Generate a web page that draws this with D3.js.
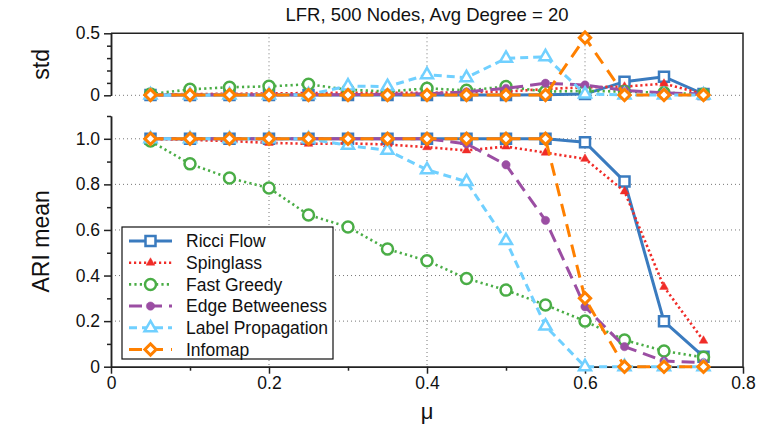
<!DOCTYPE html>
<html>
<head>
<meta charset="utf-8">
<script src="https://cdn.jsdelivr.net/npm/d3@7"></script>
<style>
  body { margin: 0; background: #fff; }
  text { font-family: "Liberation Sans", Arial, Helvetica, sans-serif; fill: #111; }
</style>
</head>
<body>
<div id="chart"></div>
<script>
const width = 757;
const height = 426;

// mixing parameter values
const mu = [0.05, 0.1, 0.15, 0.2, 0.25, 0.3, 0.35, 0.4, 0.45, 0.5, 0.55, 0.6, 0.65, 0.7, 0.75];

const methods = ["Ricci Flow", "Spinglass", "Fast Greedy", "Edge Betweeness", "Label Propagation", "Infomap"];

// ARI mean
const meanRicci = [1, 1, 1, 1, 1, 1, 1, 1, 1, 1, 1, 0.985, 0.813, 0.199, 0.044];
const meanSpinglass = [1, 0.995, 0.99, 0.982, 0.978, 0.98, 0.975, 0.963, 0.949, 0.966, 0.939, 0.912, 0.769, 0.35, 0.114];
const meanFastGreedy = [0.99, 0.89, 0.828, 0.784, 0.666, 0.613, 0.516, 0.465, 0.387, 0.336, 0.271, 0.2, 0.117, 0.069, 0.041];
const meanEdgeBtw = [1, 1, 1, 1, 1, 1, 1, 1, 0.978, 0.886, 0.642, 0.263, 0.088, 0.025, 0.018];
const meanLabelProp = [1, 1, 1, 1, 1, 0.971, 0.949, 0.864, 0.812, 0.553, 0.178, 0, 0, 0, 0];
const meanInfomap = [1, 1, 1, 1, 1, 1, 1, 1, 1, 1, 1, 0.3, 0, 0, 0];

// standard deviation
const stdRicci = [0.003, 0.003, 0.003, 0.003, 0.003, 0.003, 0.003, 0.003, 0.003, 0.003, 0.005, 0.01, 0.11, 0.15, 0.01];
const stdSpinglass = [0.005, 0.01, 0.012, 0.015, 0.018, 0.02, 0.02, 0.02, 0.025, 0.03, 0.05, 0.065, 0.07, 0.094, 0.01];
const stdFastGreedy = [0.01, 0.048, 0.065, 0.072, 0.089, 0.045, 0.03, 0.056, 0.04, 0.07, 0.03, 0.035, 0.03, 0.02, 0.01];
const stdEdgeBtw = [0.003, 0.003, 0.005, 0.005, 0.005, 0.005, 0.008, 0.012, 0.028, 0.056, 0.097, 0.083, 0.04, 0.02, 0.01];
const stdLabelProp = [0.003, 0.003, 0.003, 0.003, 0.005, 0.075, 0.07, 0.166, 0.142, 0.298, 0.311, 0.01, 0.003, 0.003, 0.003];
const stdInfomap = [0.003, 0.003, 0.003, 0.003, 0.003, 0.003, 0.003, 0.003, 0.003, 0.003, 0.003, 0.465, 0.003, 0.003, 0.003];

const xTicks = [0, 0.2, 0.4, 0.6, 0.8];
const meanTicks = [0, 0.2, 0.4, 0.6, 0.8, 1.0];
const stdTicks = [0, 0.5];

const meanData = [meanRicci, meanSpinglass, meanFastGreedy, meanEdgeBtw, meanLabelProp, meanInfomap];
const stdData = [stdRicci, stdSpinglass, stdFastGreedy, stdEdgeBtw, stdLabelProp, stdInfomap];

const styles = [
  { color: "#3a7bbf", width: 3, dash: null, symbol: d3.symbolSquare, size: 100, fill: "#fff", sw: 2.5, rot: 0 },
  { color: "#f02c28", width: 2.6, dash: "2.2,2.8", symbol: d3.symbolTriangle, size: 32, fill: "#f02c28", sw: 0.5, rot: 0 },
  { color: "#4aad46", width: 2.6, dash: "2.2,3.2", symbol: d3.symbolCircle, size: 95, fill: "#fff", sw: 2.5, rot: 0 },
  { color: "#9b4ea3", width: 3, dash: "13,7", symbol: d3.symbolCircle, size: 55, fill: "#9b4ea3", sw: 0.5, rot: 0 },
  { color: "#70d0ff", width: 3, dash: "8,5", symbol: d3.symbolTriangle, size: 62, fill: "#fff", sw: 2.5, rot: 0 },
  { color: "#ff8000", width: 3, dash: "13,8", symbol: d3.symbolSquare, size: 64, fill: "#fff", sw: 3, rot: 45 }
];

const svg = d3.select("#chart").append("svg")
  .attr("width", width)
  .attr("height", height);

const left = 111, right = 743;
const stdTop = 33.3, stdBottom = 95.3;
const meanTop = 116, meanBottom = 366.7;

const x = d3.scaleLinear().domain([0, 0.8]).range([left, right]);
const yStd = d3.scaleLinear().domain([0, 0.5]).range([stdBottom, stdTop]);
const yMean = d3.scaleLinear().domain([0, 1.1]).range([meanBottom, meanTop]);

const fmt = d => d === 0 ? "0" : d3.format(".1f")(d);

// grid lines
const grid = svg.append("g").attr("stroke", "#777").attr("stroke-width", 1).attr("stroke-dasharray", "1,3");
grid.selectAll(".vs").data([0.2, 0.4, 0.6]).enter().append("line")
  .attr("x1", d => x(d)).attr("x2", d => x(d)).attr("y1", stdTop).attr("y2", stdBottom);
grid.append("line").attr("x1", left).attr("x2", right).attr("y1", yStd(0)).attr("y2", yStd(0));
grid.selectAll(".vm").data([0.2, 0.4, 0.6]).enter().append("line")
  .attr("x1", d => x(d)).attr("x2", d => x(d)).attr("y1", meanTop).attr("y2", meanBottom);
grid.selectAll(".hm").data([0.2, 0.4, 0.6, 0.8, 1.0]).enter().append("line")
  .attr("x1", left).attr("x2", right).attr("y1", d => yMean(d)).attr("y2", d => yMean(d));

// axes
function styleAxis(g) {
  g.selectAll("path").attr("stroke", "#222").attr("stroke-width", 1.5);
  g.selectAll("line").attr("stroke", "#222").attr("stroke-width", 1.5);
  g.selectAll("text").style("font-size", "17.5px").attr("fill", "#111")
    .style("font-family", "'Liberation Sans', Arial, sans-serif");
}

svg.append("g").attr("transform", `translate(${left},0)`)
  .call(d3.axisLeft(yStd).tickValues([0.1, 0.2, 0.3, 0.4]).tickSize(4).tickSizeOuter(0).tickFormat(""))
  .call(styleAxis);
svg.append("g").attr("transform", `translate(${left},0)`)
  .call(d3.axisLeft(yStd).tickValues(stdTicks).tickSize(7).tickSizeOuter(0).tickFormat(fmt).tickPadding(4))
  .call(styleAxis);

svg.append("g").attr("transform", `translate(${left},0)`)
  .call(d3.axisLeft(yMean).tickValues([0.1, 0.3, 0.5, 0.7, 0.9, 1.1]).tickSize(4).tickSizeOuter(0).tickFormat(""))
  .call(styleAxis);
svg.append("g").attr("transform", `translate(${left},0)`)
  .call(d3.axisLeft(yMean).tickValues(meanTicks).tickSize(7).tickSizeOuter(0).tickFormat(fmt).tickPadding(4))
  .call(styleAxis);

svg.append("g").attr("transform", `translate(0,${meanBottom})`)
  .call(d3.axisBottom(x).tickValues([0.1, 0.3, 0.5, 0.7]).tickSize(4).tickSizeOuter(0).tickFormat(""))
  .call(styleAxis);
svg.append("g").attr("transform", `translate(0,${meanBottom})`)
  .call(d3.axisBottom(x).tickValues(xTicks).tickSize(7).tickSizeOuter(0).tickFormat(fmt).tickPadding(3))
  .call(styleAxis);

// top and right border
svg.append("path")
  .attr("d", `M${left},${stdTop}H${right}V${meanBottom}`)
  .attr("fill", "none").attr("stroke", "#222").attr("stroke-width", 1.5);

// series
function drawSeries(data, y) {
  const line = d3.line().x((d, i) => x(mu[i])).y(d => y(d));
  data.forEach((vals, k) => {
    const s = styles[k];
    const g = svg.append("g");
    g.append("path").datum(vals)
      .attr("d", line)
      .attr("fill", "none")
      .attr("stroke", s.color)
      .attr("stroke-width", s.width)
      .attr("stroke-dasharray", s.dash);
    g.selectAll("path.m").data(vals).enter().append("path")
      .attr("class", "m")
      .attr("d", d3.symbol(s.symbol, s.size))
      .attr("transform", (d, i) => `translate(${x(mu[i])},${y(d)}) rotate(${s.rot})`)
      .attr("fill", s.fill)
      .attr("stroke", s.color)
      .attr("stroke-width", s.sw);
  });
}
drawSeries(stdData, yStd);
drawSeries(meanData, yMean);

// legend
const legend = svg.append("g").attr("transform", "translate(122,227)");
legend.append("rect").attr("width", 211).attr("height", 132)
  .attr("fill", "#fff").attr("stroke", "#111").attr("stroke-width", 1.2);
methods.forEach((name, k) => {
  const s = styles[k];
  const yy = 14 + k * 21.7;
  legend.append("line").attr("x1", 7).attr("x2", 50).attr("y1", yy).attr("y2", yy)
    .attr("stroke", s.color).attr("stroke-width", s.width).attr("stroke-dasharray", s.dash);
  legend.append("path")
    .attr("d", d3.symbol(s.symbol, s.size))
    .attr("transform", `translate(28.5,${yy}) rotate(${s.rot})`)
    .attr("fill", s.fill).attr("stroke", s.color).attr("stroke-width", s.sw);
  legend.append("text").attr("x", 64).attr("y", yy).attr("dy", "0.36em")
    .style("font-size", "17.5px").text(name);
});

// titles
svg.append("text").attr("x", 427).attr("y", 21).attr("text-anchor", "middle")
  .style("font-size", "18.5px").text("LFR, 500 Nodes, Avg Degree = 20");
svg.append("text").attr("transform", `translate(49,${(stdTop + stdBottom) / 2}) rotate(-90)`)
  .attr("text-anchor", "middle").style("font-size", "23px").text("std");
svg.append("text").attr("transform", `translate(49,${(meanTop + meanBottom) / 2}) rotate(-90)`)
  .attr("text-anchor", "middle").style("font-size", "23px").text("ARI mean");
svg.append("text").attr("x", 427).attr("y", 419).attr("text-anchor", "middle")
  .style("font-size", "22px").text("μ");
</script>
</body>
</html>
